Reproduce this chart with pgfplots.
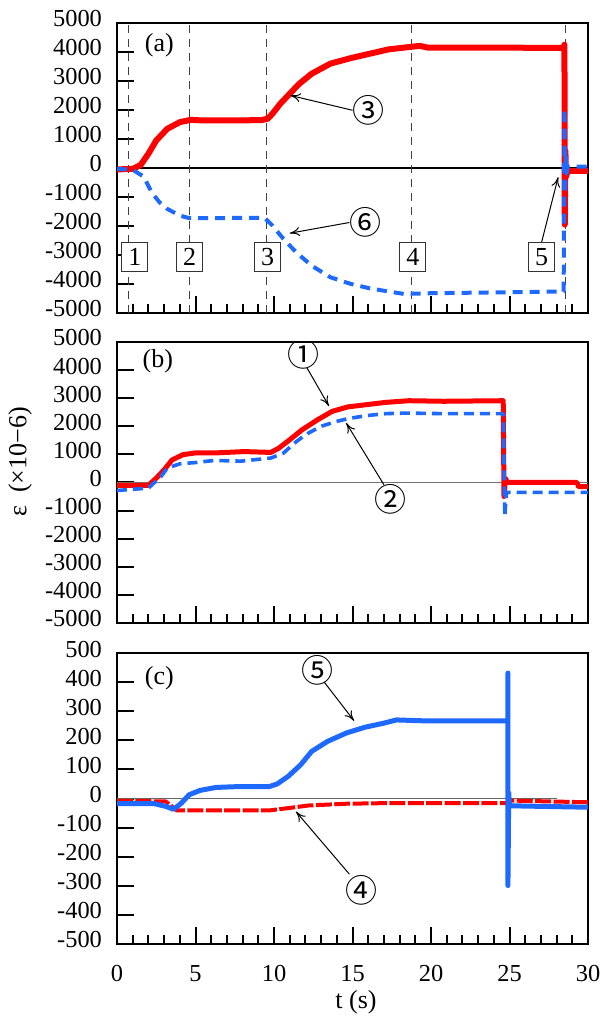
\documentclass[border=0pt]{standalone}
\usepackage{fontspec}
\setmainfont{Liberation Serif}
\newfontfamily\circfont{Noto Sans CJK SC}
\usepackage{pgfplots}
\pgfplotsset{compat=1.18}
\usetikzlibrary{arrows.meta}
\definecolor{myred}{RGB}{255,0,0}
\definecolor{myblue}{RGB}{30,105,255}
\pgfplotsset{
 panel/.style={
  scale only axis, width=235.5pt, xmin=0, xmax=30,
  axis line style={line width=1.4pt},
  tick align=inside, xtick pos=bottom, ytick pos=left,
  xtick={0,5,...,30}, minor x tick num=4,
  major tick length=8.5pt, minor tick length=4.5pt,
  every tick/.append style={black, line width=1pt},
  every minor tick/.append style={black, line width=1pt},
  tick label style={font=\fontsize{12.2}{14}\selectfont},
  /pgf/number format/assume math mode=true,
  /pgf/number format/1000 sep={},
  yticklabel style={xshift=-3pt, yshift=2pt},
  xticklabel style={yshift=-6pt},
  every axis plot/.append style={line join=round},
 },
}
\tikzset{
 ann/.style={-{To[length=5pt,width=4.5pt]}, line width=0.5pt, black},
 numbox/.style={draw=black!80, line width=0.6pt, fill=white, minimum width=13pt, minimum height=14.5pt, inner sep=1pt},
 circ/.style={font=\fontsize{16}{18}\circfont},
}
\begin{document}
\fontsize{13}{15}\selectfont
\begin{tikzpicture}[font=\fontsize{13}{15}\selectfont]
\useasboundingbox (0,0) rectangle (301.5pt,508pt);
% ---------------- panel (a)
\begin{axis}[panel, at={(58.5pt,351.5pt)}, anchor=south west, height=145pt,
  ymin=-5000, ymax=5000, ytick={-5000,-4000,...,5000}, xticklabels={}]
\addplot[black, line width=0.6pt, forget plot] coordinates {(0,0) (30,0)};
\foreach \xx in {0.74,4.6,9.55,18.76,28.54}{
  \edef\tmp{\noexpand\addplot[black!75, line width=0.55pt, dash pattern=on 4pt off 3pt, forget plot] coordinates {(\xx,-5000) (\xx,5000)};}\tmp
}
\addplot[myred, line width=3pt] coordinates {
(0,-50)(1.0,-30)(1.5,100)(2.0,490)(2.5,950)(3.2,1350)(4.0,1580)(4.7,1660)(5.4,1640)(7.4,1640)(9.2,1650)(9.6,1700)(9.9,1870)(10.4,2215)(11.0,2560)(11.6,2900)(12.4,3250)(13.6,3600)(14.9,3790)(16.1,3940)(17.3,4090)(18.6,4170)(19.3,4210)(19.8,4150)(24,4150)(28.45,4140)(28.5,4250)(28.52,-1950)(28.56,600)(28.6,-300)(28.7,-100)(30,-100)};
\addplot[myblue, line width=2pt, dash pattern=on 5pt off 3.5pt] coordinates {
(0,-30)(1.0,-60)(1.7,-300)(2.2,-830)(2.7,-1180)(3.2,-1410)(4.0,-1640)(4.6,-1730)(5.0,-1730)(9.4,-1720)(9.9,-1985)(10.6,-2445)(11.4,-2900)(12.4,-3370)(13.6,-3770)(14.9,-4000)(16.1,-4150)(17.3,-4260)(18.3,-4345)(19.8,-4320)(28.45,-4260)(28.5,2050)(28.54,-900)(28.58,400)(28.63,-200)(28.7,50)(30,50)};
\node[numbox] at (axis cs:1.14,-3070) {1};
\node[numbox] at (axis cs:4.63,-3070) {2};
\node[numbox] at (axis cs:9.6,-3070) {3};
\node[numbox] at (axis cs:18.84,-3070) {4};
\node[numbox] (b5) at (axis cs:27.05,-3070) {5};
\draw[ann] (b5.north) -- (axis cs:28.1,-315);
\node at (axis cs:2.7,4230) {(a)};
\node[circ] at (axis cs:16.0,1985) {③};
\draw[ann] (axis cs:15.0,1990) -- (axis cs:11.05,2500);
\node[circ] at (axis cs:15.8,-1890) {⑥};
\draw[ann] (axis cs:14.8,-1880) -- (axis cs:11.0,-2250);
\end{axis}
% ---------------- panel (b)
\begin{axis}[panel, at={(58.5pt,196.5pt)}, anchor=south west, height=140.5pt,
  ymin=-5000, ymax=5000, ytick={-5000,-4000,...,5000}, xticklabels={}]
\addplot[black!55, line width=0.9pt, forget plot] coordinates {(0,0) (30,0)};
\addplot[myred, line width=2.5pt] coordinates {
(0,-100)(2.0,-100)(2.5,155)(3.0,450)(3.5,800)(4.2,990)(4.95,1050)(6.2,1050)(8.1,1100)(9.8,1070)(10.3,1220)(11.0,1520)(11.8,1880)(12.8,2240)(13.7,2530)(14.7,2690)(15.9,2770)(17.1,2850)(18.6,2910)(20.8,2890)(24.6,2910)(24.65,-500)(24.75,150)(24.85,0)(29.3,0)(29.4,-150)(30,-150)};
\addplot[myblue, line width=1.8pt, dash pattern=on 5pt off 3pt] coordinates {
(0,-285)(2,-200)(2.8,210)(3.2,510)(4.0,665)(5.0,710)(6.2,785)(7.9,760)(9.8,870)(10.6,1045)(11.3,1400)(12.0,1700)(13.0,2000)(14.0,2175)(14.7,2270)(15.9,2380)(17.1,2450)(18.4,2470)(20.8,2450)(24.6,2450)(24.7,-1200)(24.8,-350)(30,-350)};
\node at (axis cs:2.6,4316) {(b)};
\node[circ] at (axis cs:11.85,4550) {①};
\draw[ann] (axis cs:12.1,4080) -- (axis cs:13.5,2720);
\node[circ] at (axis cs:17.4,-595) {②};
\draw[ann] (axis cs:17.0,-80) -- (axis cs:14.6,2117);
\end{axis}
% ---------------- panel (c)
\begin{axis}[panel, at={(58.5pt,36pt)}, anchor=south west, height=145.5pt,
  ymin=-500, ymax=500, ytick={-500,-400,...,500}]
\addplot[black!60, line width=0.7pt, forget plot] coordinates {(0,0) (28,0)};
\addplot[myred, line width=2pt, dash pattern=on 8pt off 1.2pt] coordinates {
(0,-8)(3.1,-10)(3.8,-41)(4.8,-41)(9.7,-41)(10.9,-33)(12.2,-24)(14.6,-18)(17.0,-16)(24.9,-16)(25,-7)(30,-13)};
\addplot[myblue, line width=2.5pt] coordinates {
(0,-18)(2.4,-18)(3.1,-27)(3.6,-37)(4.1,-16)(4.6,13)(5.3,28)(6.3,38)(7.75,41)(9.7,41)(10.2,50)(10.9,76)(11.7,116)(12.4,162)(13.4,196)(14.6,225)(15.8,245)(17.0,259)(17.8,270)(19.5,267)(24.9,267)(24.9,431)(24.9,-299)(24.95,20)(25.0,-25)(30,-30)};
\node at (axis cs:2.7,414) {(c)};
\node[circ] at (axis cs:12.8,440) {⑤};
\draw[ann] (axis cs:13.2,400) -- (axis cs:15.1,267);
\node[circ] at (axis cs:15.6,-316) {④};
\draw[ann] (axis cs:14.8,-260) -- (axis cs:11.4,-45);
\end{axis}
\node at (178pt,7pt) {t (s)};
\node[rotate=90] at (10pt,277pt) {ε~~(×10−6)};
\end{tikzpicture}
\end{document}
